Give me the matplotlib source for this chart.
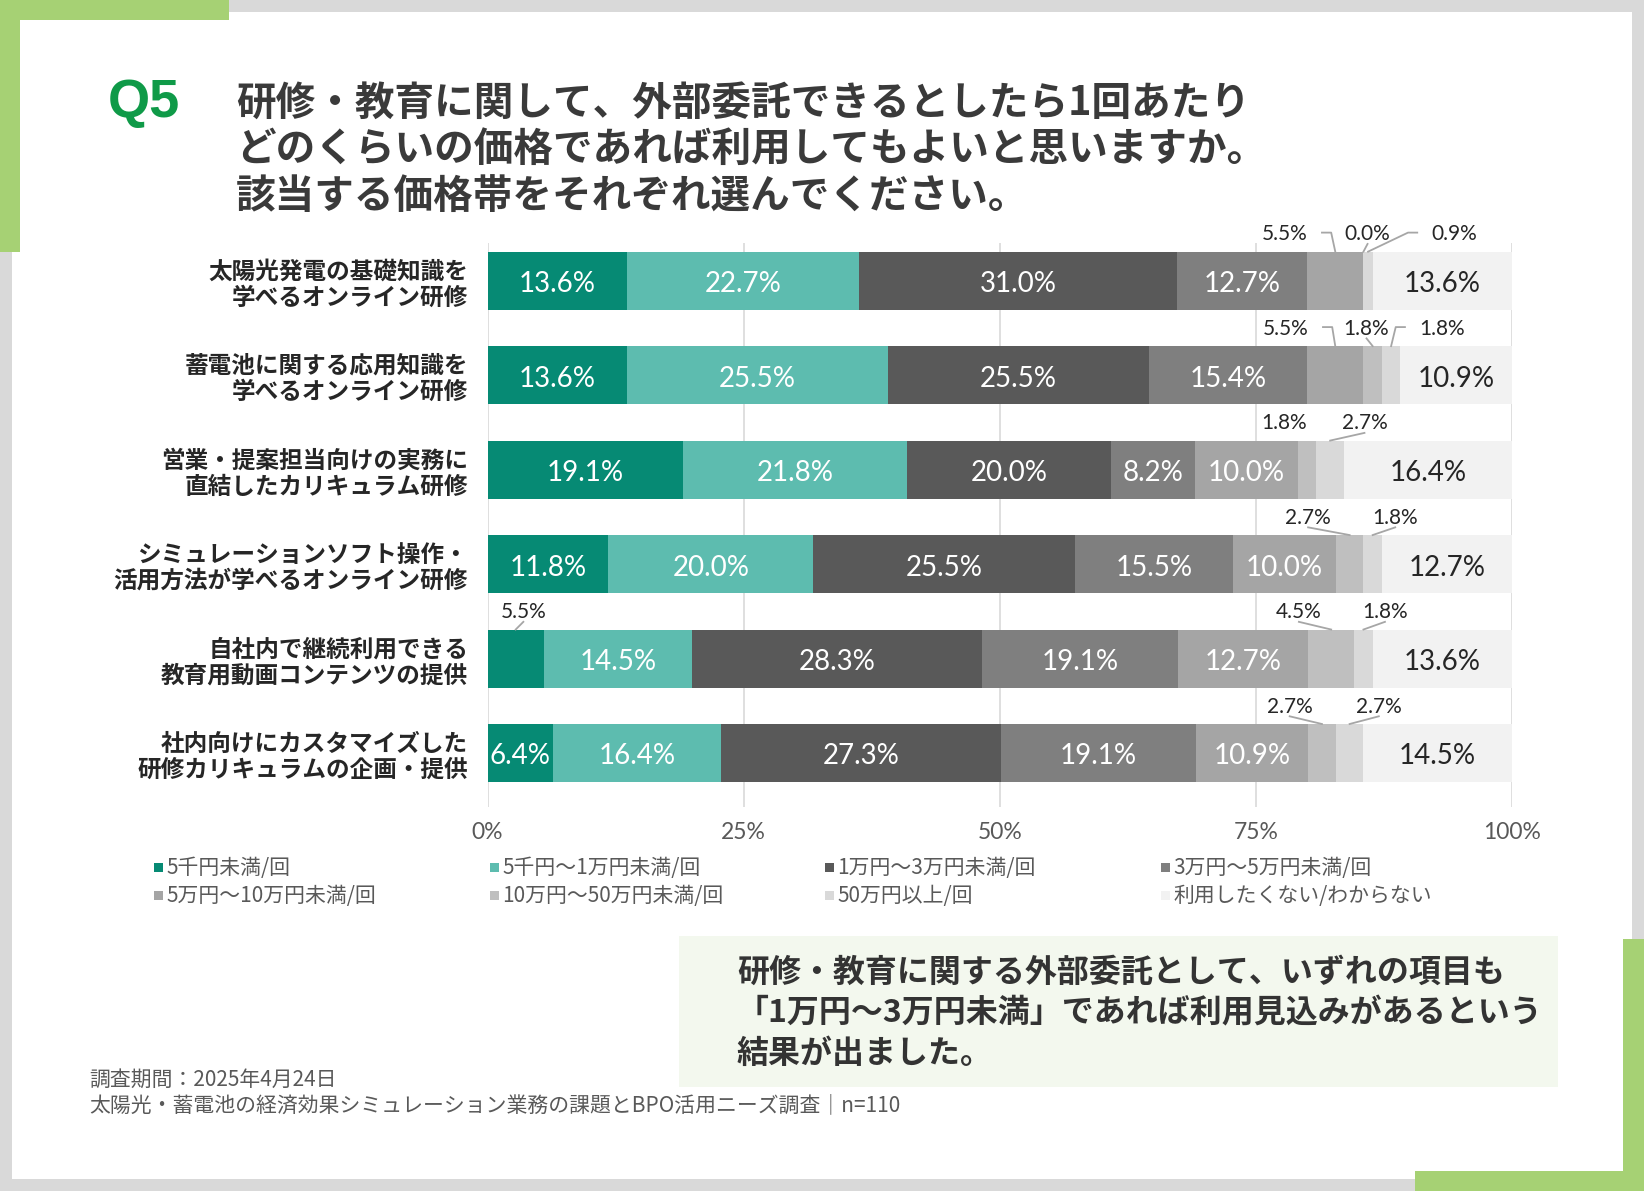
import numpy as np
import matplotlib.pyplot as plt
from matplotlib.patches import Rectangle

JP = ['Noto Sans CJK JP', 'DejaVu Sans']
NUM = ['Lato', 'DejaVu Sans']

# 質問項目（上から順）
items = [
    '太陽光発電の基礎知識を\n学べるオンライン研修',
    '蓄電池に関する応用知識を\n学べるオンライン研修',
    '営業・提案担当向けの実務に\n直結したカリキュラム研修',
    'シミュレーションソフト操作・\n活用方法が学べるオンライン研修',
    '自社内で継続利用できる\n教育用動画コンテンツの提供',
    '社内向けにカスタマイズした\n研修カリキュラムの企画・提供',
]

series = ['5千円未満/回', '5千円～1万円未満/回', '1万円～3万円未満/回', '3万円～5万円未満/回',
          '5万円～10万円未満/回', '10万円～50万円未満/回', '50万円以上/回', '利用したくない/わからない']

v_lt5k = [13.6, 13.6, 19.1, 11.8, 5.5, 6.4]
v_5k_1m = [22.7, 25.5, 21.8, 20.0, 14.5, 16.4]
v_1m_3m = [31.0, 25.5, 20.0, 25.5, 28.3, 27.3]
v_3m_5m = [12.7, 15.4, 8.2, 15.5, 19.1, 19.1]
v_5m_10m = [5.5, 5.5, 10.0, 10.0, 12.7, 10.9]
v_10m_50m = [0.0, 1.8, 1.8, 2.7, 4.5, 2.7]
v_50m = [0.9, 1.8, 2.7, 1.8, 1.8, 2.7]
v_none = [13.6, 10.9, 16.4, 12.7, 13.6, 14.5]

colors = ['#068a74', '#5dbcaf', '#595959', '#7f7f7f', '#a5a5a5', '#bfbfbf', '#d9d9d9', '#f2f2f2']

# 棒の外に出すラベル: (行, 系列, ラベルx位置[%], 引き出し線)
outside = [
    (0, 4, 77.8, True), (0, 5, 85.9, True), (0, 6, 94.4, True),
    (1, 4, 77.9, True), (1, 5, 85.8, True), (1, 6, 93.2, True),
    (2, 5, 77.8, False), (2, 6, 85.6, True),
    (3, 5, 80.1, True), (3, 6, 88.6, True),
    (4, 0, 3.5, True), (4, 5, 79.2, True), (4, 6, 87.6, True),
    (5, 5, 78.3, True), (5, 6, 87.0, True),
]

W, H = 1644, 1191
fig = plt.figure(figsize=(W / 100, H / 100), dpi=100, facecolor='#d9d9d9')


def rect(x0, y0, x1, y1, color, z):
    fig.add_artist(Rectangle((x0 / W, 1 - y1 / H), (x1 - x0) / W, (y1 - y0) / H,
                             transform=fig.transFigure, facecolor=color,
                             edgecolor='none', zorder=z))


def ftext(x, y, s, **kw):
    fig.text(x / W, 1 - y / H, s, **kw)


# 枠と装飾
rect(12, 12, 1632, 1179, 'white', -3)
green = '#a6d174'
rect(0, 0, 229, 20, green, -1)
rect(0, 0, 20, 252, green, -1)
rect(1415, 1171, 1644, 1191, green, -1)
rect(1623, 939, 1644, 1191, green, -1)
rect(679, 936, 1558, 1087, '#f3f8ee', -2)

# タイトル
ftext(108, 103, 'Q5', family=['Liberation Sans', 'DejaVu Sans'], fontweight='bold',
      fontsize=39, color='#0f9a48', va='center')
title_lines = ['研修・教育に関して、外部委託できるとしたら1回あたり',
               'どのくらいの価格であれば利用してもよいと思いますか。',
               '該当する価格帯をそれぞれ選んでください。']
for i, line in enumerate(title_lines):
    ftext(236, 103 + i * 46.5, line, family=JP, fontweight='bold', fontsize=28.5,
          color='#3a3a3a', va='center')

# グラフ本体
ax = fig.add_axes([487.5 / W, 1 - 807 / H, 1024.5 / W, 564 / H])
ax.patch.set_alpha(0)
data = np.array([v_lt5k, v_5k_1m, v_1m_3m, v_3m_5m, v_5m_10m, v_10m_50m, v_50m, v_none])
rows = np.arange(len(items))
bar_h = 0.617
lefts = np.zeros(len(items))
for k in range(len(series)):
    ax.barh(rows, data[k], left=lefts, height=bar_h, color=colors[k], edgecolor='none', zorder=2)
    for r in rows:
        v = data[k][r]
        if v >= 6:
            tc = '#262626' if k == 7 else 'white'
            ax.text(lefts[r] + v / 2, r + 0.035, f'{v:.1f}%', ha='center', va='center',
                    family=NUM, fontsize=20, color=tc, zorder=3)
    lefts = lefts + data[k]

starts = np.cumsum(data, axis=0) - data
for r, k, lx, leader in outside:
    v = data[k][r]
    ly = r - 0.51
    ax.text(lx, ly + 0.02, f'{v:.1f}%', ha='center', va='center', family=NUM, fontsize=15,
            color='#262626', zorder=3)
    if not leader:
        continue
    sc = starts[k][r] + v / 2
    top = r - bar_h / 2
    if abs(lx - sc) > 4.5:
        d = 1 if sc > lx else -1
        x0 = lx + d * (2.25 + 1.4)
        x1 = x0 + d * 0.9
        xs, ys = [x0, x1, sc], [ly, ly, top]
    else:
        xs, ys = [lx, sc], [ly + 0.12, top]
    ax.plot(xs, ys, color='#a6a6a6', lw=1.3, clip_on=False, zorder=3)

ax.set_xlim(0, 100)
ax.set_ylim(5.57, -0.40)
ax.set_xticks([0, 25, 50, 75, 100])
ax.set_xticklabels(['0%', '25%', '50%', '75%', '100%'], family=NUM, fontsize=16.5, color='#595959')
ax.set_yticks(rows)
ax.set_yticklabels(items, family=JP, fontweight='bold', fontsize=17, color='#262626')
for t in ax.get_yticklabels():
    t.set_linespacing(1.12)
ax.tick_params(axis='x', length=0, pad=11)
ax.tick_params(axis='y', length=0, pad=14)
ax.grid(axis='x', color='#d9d9d9', lw=1.2, zorder=0)
for s in ax.spines.values():
    s.set_visible(False)

# 凡例
col_x = [154, 490, 825, 1161]
row_y = [868, 896]
for i, name in enumerate(series):
    x, y = col_x[i % 4], row_y[i // 4]
    rect(x, y - 5, x + 9, y + 4, colors[i], 1)
    ftext(x + 12, y, name, family=JP, fontsize=15, color='#595959', va='center')

# まとめ
summary = ['研修・教育に関する外部委託として、いずれの項目も',
           '「1万円～3万円未満」であれば利用見込みがあるという',
           '結果が出ました。']
for i, line in enumerate(summary):
    ftext(737, 973 + i * 40.5, line, family=JP, fontweight='bold', fontsize=23,
          color='#333333', va='center')

# 注記
ftext(89, 1080, '調査期間：2025年4月24日', family=JP, fontsize=15, color='#595959', va='center')
ftext(89, 1105, '太陽光・蓄電池の経済効果シミュレーション業務の課題とBPO活用ニーズ調査｜n=110',
      family=JP, fontsize=15, color='#595959', va='center')

fig.savefig('out.png', dpi=100, facecolor=fig.get_facecolor())
